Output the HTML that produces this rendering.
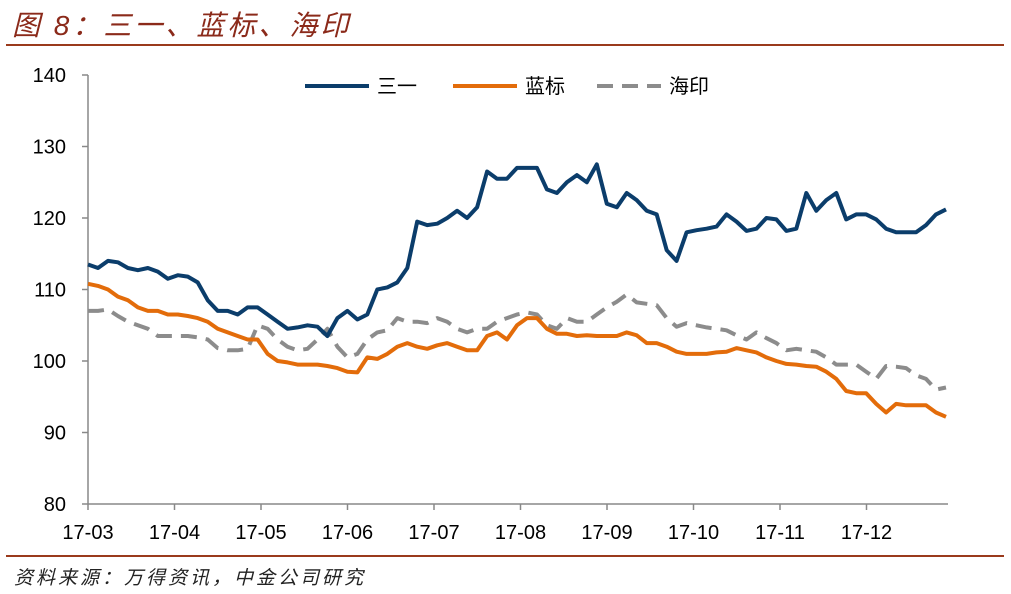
<!DOCTYPE html>
<html><head><meta charset="utf-8"><style>
body{margin:0;background:#fff;width:1011px;height:594px;overflow:hidden;font-family:"Liberation Sans","Noto Sans CJK SC",sans-serif}
.t{position:absolute;font-style:italic;color:#8b2a1a;white-space:nowrap}
</style></head><body>
<div class="t" style="left:12px;top:4px;font-size:28px;letter-spacing:3px;">图 8：三一、蓝标、海印</div>
<div style="position:absolute;left:6px;top:44px;width:998px;height:2px;background:#9a3a1c"></div>
<div style="position:absolute;left:6px;top:555px;width:998px;height:2px;background:#9a3a1c"></div>
<div class="t" style="left:14px;top:563px;font-size:19px;letter-spacing:3px;color:#222;">资料来源：万得资讯，中金公司研究</div>
<svg id="c" width="1011" height="594" style="position:absolute;left:0;top:0"></svg>
<script>
const monthLabels=["17-03","17-04","17-05","17-06","17-07","17-08","17-09","17-10","17-11","17-12"];
const yTicks=[80,90,100,110,120,130,140];
const seriesNames=["三一","蓝标","海印"];
const sanyi=[113.5,113,114,113.8,113,112.7,113,112.5,111.5,112,111.8,111,108.5,107,107,106.5,107.5,107.5,106.5,105.5,104.5,104.7,105,104.8,103.5,106,107,105.8,106.5,110,110.3,111,113,119.5,119,119.2,120,121,120,121.5,126.5,125.5,125.5,127,127,127,124,123.5,125,126,125,127.5,122,121.5,123.5,122.5,121,120.5,115.5,114,118,118.3,118.5,118.8,120.5,119.5,118.2,118.5,120,119.8,118.2,118.5,123.5,121,122.5,123.5,119.8,120.5,120.5,119.8,118.5,118,118,118,119,120.5,121.2];
const lanbiao=[110.8,110.5,110,109,108.5,107.5,107,107,106.5,106.5,106.3,106,105.5,104.5,104,103.5,103,103,101,100,99.8,99.5,99.5,99.5,99.3,99,98.5,98.4,100.5,100.3,101,102,102.5,102,101.7,102.2,102.5,102,101.5,101.5,103.5,104,103,105,106,106,104.5,103.8,103.8,103.5,103.6,103.5,103.5,103.5,104,103.6,102.5,102.5,102,101.3,101,101,101,101.2,101.3,101.8,101.5,101.2,100.5,100,99.6,99.5,99.3,99.2,98.5,97.5,95.8,95.5,95.5,94,92.8,94,93.8,93.8,93.8,92.8,92.2];
const haiyin=[107,107,107.2,106.3,105.5,105,104.5,103.5,103.5,103.5,103.5,103.3,103,101.8,101.5,101.5,101.7,105,104.5,103,102,101.5,101.7,103,104.5,102,100.5,101,103,104,104.3,106,105.5,105.5,105.3,106,105.5,104.5,104,104.5,104.5,105.5,106,106.5,106.8,106.5,105,104.5,106,105.5,105.5,106.5,107.5,108.3,109.3,108.2,108,107.8,106,104.8,105.3,105,104.7,104.5,104.3,103.6,103,104,103.2,102.5,101.5,101.7,101.5,101.3,100.5,99.5,99.5,99.5,98.5,97.5,99.3,99.2,99,98,97.5,96,96.3];
const svg=document.getElementById('c');const NS='http://www.w3.org/2000/svg';
const X0=88,X1=946,monthW=86.5;
const y=v=>504-(v-80)*(429/60);
const xi=(i,n)=>X0+i*(X1-X0)/(n-1);
function mk(t,a){const e=document.createElementNS(NS,t);for(const k in a)e.setAttribute(k,a[k]);svg.appendChild(e);return e;}
let e=mk('line',{x1:X0,y1:75,x2:X0,y2:504,stroke:'#888','stroke-width':1.5});


e=mk('line',{x1:X0,y1:504,x2:948,y2:504,stroke:'#888','stroke-width':1.5});


yTicks.forEach(v=>{
 mk('line',{x1:X0-6,y1:y(v),x2:X0,y2:y(v),stroke:'#888','stroke-width':1.5});
 const t=mk('text',{x:66,y:y(v)+7,'text-anchor':'end','font-size':20,fill:'#000'});t.textContent=v;
 
 
});
monthLabels.forEach((m,i)=>{
 const px=X0+i*monthW;
 mk('line',{x1:px,y1:504,x2:px,y2:510,stroke:'#888','stroke-width':1.5});
 const t=mk('text',{x:px,y:539,'text-anchor':'middle','font-size':20,fill:'#000'});t.textContent=m;
 
 
});
function line(d,col,dash,name){
 const p=d.map((v,i)=>(i?'L':'M')+xi(i,d.length).toFixed(1)+','+y(v).toFixed(1)).join('');
 const a={d:p,fill:'none',stroke:col,'stroke-width':4,'stroke-linejoin':'round'};
 if(dash)a['stroke-dasharray']=dash;
 const el=mk('path',a);
 
 
}
line(haiyin,'#8c8c8c','16 9','haiyin-line');
line(lanbiao,'#e36c0a',null,'lanbiao-line');
line(sanyi,'#0b3d6b',null,'sanyi-line');
const leg=[[305,'#0b3d6b',null],[453,'#e36c0a',null],[597,'#8c8c8c','16 9']];
leg.forEach((l,i)=>{
 const a={x1:l[0],y1:86,x2:l[0]+64,y2:86,stroke:l[1],'stroke-width':4};
 if(l[2])a['stroke-dasharray']=l[2];
 const ln=mk('line',a);
 
 
 const t=mk('text',{x:l[0]+72,y:93,'font-size':20,fill:'#000'});t.textContent=seriesNames[i];
 
 
});
</script>
</body></html>
